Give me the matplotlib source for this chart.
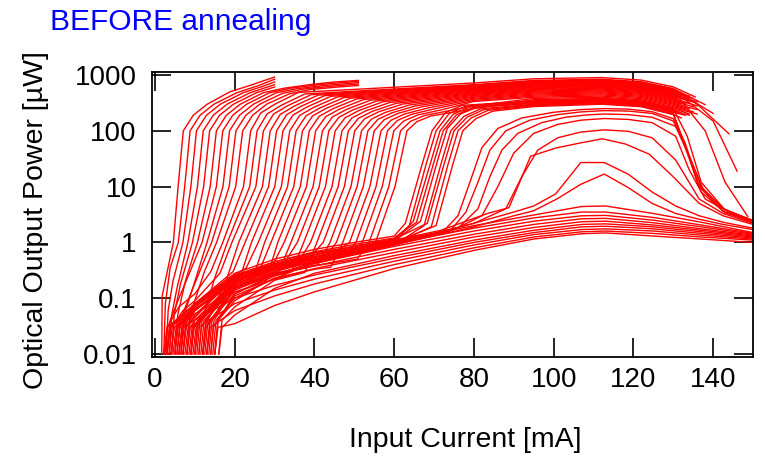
import matplotlib
matplotlib.use("Agg")
import matplotlib.pyplot as plt
from matplotlib.ticker import NullLocator

plt.rcParams['font.family'] = ['Liberation Sans', 'DejaVu Sans']

# ----------------------- data -----------------------
# current [mA] and optical power [uW] for every measured device

# early devices, measured up to 30 mA
early_i = [
    [1.7, 1.8, 4.6, 5.8, 7.1, 9.6, 13.1, 18.8, 24.1, 30.0],
    [2.2, 2.6, 3.8, 5.85, 7.45, 8.8, 11.3, 14.8, 20.5, 25.8, 30.0],
    [2.8, 3.3, 4.5, 7.0, 9.0, 10.4, 12.9, 16.4, 22.1, 27.4, 30.0],
    [3.6, 4.2, 5.5, 8.25, 10.65, 12.1, 14.6, 18.1, 23.8, 30.0],
    [4.2, 4.8, 6.4, 9.4, 12.2, 13.7, 16.2, 19.7, 25.4, 30.0],
]
early_p = [
    [0.01, 0.11, 1.0, 10, 100, 190, 300, 500, 660, 920],
    [0.01, 0.08, 0.35, 1, 10, 100, 190, 300, 480, 640, 840],
    [0.01, 0.06, 0.2, 1, 10, 100, 190, 300, 480, 640, 750],
    [0.01, 0.05, 0.15, 1, 10, 100, 190, 300, 480, 670],
    [0.01, 0.05, 0.18, 1, 10, 100, 190, 300, 480, 610],
]

# devices measured up to 51 mA
mid_i = [
    [5.0, 5.7, 7.6, 10.65, 13.85, 15.4, 17.9, 21.4, 27.1, 32.4, 39.4, 45.0, 51.0],
    [3.0, 3.8, 6.0, 8.8, 11.8, 15.4, 17.0, 19.5, 23.0, 28.7, 34.0, 41.0, 47.0, 51.0],
    [6.5, 7.3, 10.0, 13.05, 17.05, 18.7, 21.2, 24.7, 30.4, 35.7, 42.7, 51.0],
    [5.5, 6.3, 8.5, 11.2, 14.2, 18.6, 20.3, 22.8, 26.3, 32.0, 37.3, 44.3, 51.0],
    [8.0, 8.8, 12.4, 15.45, 20.25, 22.0, 24.5, 28.0, 33.7, 39.0, 46.0, 51.0],
]
mid_p = [
    [0.01, 0.05, 0.2, 1, 10, 100, 190, 300, 480, 580, 680, 750, 800],
    [0.01, 0.04, 0.1, 0.3, 1, 10, 100, 190, 300, 480, 580, 670, 730, 770],
    [0.01, 0.05, 0.2, 1, 10, 100, 190, 300, 480, 570, 650, 730],
    [0.01, 0.04, 0.1, 0.3, 1, 10, 100, 190, 300, 470, 560, 630, 690],
    [0.01, 0.05, 0.3, 1, 10, 100, 190, 300, 460, 550, 610, 650],
]

# lasing devices measured up to the roll-over
late_i = [
    [2.2, 3.0, 6, 10, 14, 17, 22.2, 24.0, 26.5, 30.0, 36.0, 80, 95, 112, 122, 130, 135.5],
    [11, 11.8, 15.15, 18.15, 23.75, 25.6, 28.1, 31.6, 37.6, 80, 95, 112, 122, 130, 138],
    [3.5, 4.3, 7, 10, 16.3, 19.3, 25.3, 27.2, 29.7, 33.2, 39.2, 80, 95, 112, 122, 130, 140],
    [12.5, 13.3, 18, 21, 26.95, 28.9, 31.4, 34.9, 40.9, 80, 95, 112, 122, 130, 136, 144],
    [5.5, 6.3, 10, 19.6, 22.6, 28.5, 30.5, 33.0, 36.5, 42.5, 80, 95, 112, 122, 130, 140, 146],
    [14, 14.8, 21.2, 24.2, 30.05, 32.1, 34.6, 38.1, 44.1, 80, 95, 112, 122, 130, 138, 143, 148.7],
    [6.5, 7.3, 10, 20, 22.9, 25.9, 31.7, 33.8, 36.3, 39.8, 45.8, 80, 95, 112, 122, 130, 134],
    [9, 9.8, 20, 24.5, 27.5, 33.25, 35.4, 37.9, 41.4, 47.4, 80, 95, 112, 122, 130, 133],
    [4, 4.8, 10, 20, 26.1, 29.1, 34.8, 37.0, 39.5, 43.0, 49.0, 80, 95, 112, 122, 130, 135],
    [15, 15.8, 20, 27.8, 30.8, 36.45, 38.7, 41.2, 44.7, 50.7, 80, 95, 112, 122, 130, 132],
    [7.5, 8.3, 10, 20, 29.4, 32.4, 38.0, 40.3, 42.8, 46.3, 52.3, 80, 95, 112, 122, 130, 136],
    [10.5, 11.3, 20, 31.1, 34.1, 39.65, 42.0, 44.5, 48.0, 54.0, 80, 95, 112, 122, 130, 134],
    [3, 3.8, 10, 20, 32.7, 35.7, 41.2, 43.6, 46.1, 49.6, 55.6, 80, 95, 112, 122, 130, 133],
    [13, 13.8, 20, 30, 34.3, 37.3, 42.75, 45.2, 47.7, 51.2, 57.2, 80, 95, 112, 122, 130, 135],
    [8, 8.8, 10, 20, 30, 36, 39, 44.4, 46.9, 49.4, 52.9, 58.9, 80, 95, 112, 122, 130, 131],
    [16, 16.8, 20, 30, 37.6, 40.6, 45.95, 48.5, 51.0, 54.5, 60.5, 80, 95, 112, 122, 130, 136],
    [5, 5.8, 10, 20, 30, 39.2, 42.2, 47.5, 50.1, 52.6, 56.1, 62.1, 80, 95, 112, 122, 130, 134],
    [11.5, 12.3, 20, 30, 40.9, 43.9, 49.15, 51.8, 54.3, 57.8, 63.8, 80, 95, 112, 122, 130, 133],
    [9.5, 10.3, 20, 30, 42.5, 45.5, 50.7, 53.4, 55.9, 59.4, 65.4, 80, 95, 112, 122, 130, 135],
    [14.5, 15.3, 20, 30, 40, 44.1, 47.1, 52.25, 55.0, 57.5, 61.0, 67.0, 80, 95, 112, 122, 130, 132],
    [6, 6.8, 10, 20, 30, 40, 45.8, 48.8, 53.9, 56.7, 59.2, 62.7, 68.7, 80, 95, 112, 122, 130, 136],
    [12, 12.8, 20, 30, 40, 47.4, 50.4, 55.45, 58.3, 60.8, 64.3, 70.3, 80, 95, 112, 122, 130, 134],
    [7, 7.8, 10, 20, 30, 40, 49, 52, 57.0, 59.9, 62.4, 65.9, 71.9, 80, 95, 112, 122, 130, 133],
    [10, 10.8, 20, 30, 40, 50.7, 53.7, 58.65, 61.6, 64.1, 67.6, 73.6, 80, 95, 112, 122, 130, 135],
    [13.5, 14.3, 20, 30, 40, 52.3, 55.3, 60.2, 63.2, 65.7, 69.2, 75.2, 80, 95, 112, 122, 130, 136],
]
late_p = [
    [0.01, 0.03, 0.07, 0.12, 0.3, 1, 10, 100, 208, 298, 488, 720, 855, 900, 810, 612, 405],
    [0.01, 0.04, 0.25, 1, 10, 100, 200, 285, 457, 672, 798, 840, 756, 571, 294],
    [0.01, 0.03, 0.06, 0.09, 0.28, 1, 10, 100, 198, 280, 446, 656, 779, 820, 738, 558, 205],
    [0.01, 0.04, 0.22, 1, 10, 100, 196, 276, 436, 640, 760, 800, 720, 544, 300, 88],
    [0.01, 0.03, 0.08, 0.3, 1, 10, 100, 194, 272, 426, 624, 741, 780, 702, 530, 150, 19],
    [0.01, 0.04, 0.22, 1, 10, 100, 191, 267, 415, 608, 722, 760, 684, 517, 100, 12, 2.9],
    [0.01, 0.03, 0.07, 0.26, 0.35, 1, 10, 100, 189, 263, 405, 592, 703, 740, 666, 503, 420],
    [0.01, 0.04, 0.15, 0.22, 1, 10, 100, 186, 258, 394, 576, 684, 720, 648, 490, 430],
    [0.01, 0.03, 0.065, 0.2, 0.3, 1, 10, 100, 184, 254, 384, 560, 665, 700, 630, 476, 380],
    [0.01, 0.04, 0.09, 0.2, 1, 10, 100, 182, 250, 374, 544, 646, 680, 612, 462, 430],
    [0.01, 0.03, 0.05, 0.23, 0.38, 1, 10, 100, 179, 245, 363, 528, 627, 660, 594, 449, 330],
    [0.01, 0.04, 0.17, 0.3, 1, 10, 100, 177, 241, 353, 512, 608, 640, 576, 435, 360],
    [0.01, 0.03, 0.08, 0.25, 0.46, 1, 10, 100, 174, 236, 342, 496, 589, 620, 558, 422, 370],
    [0.01, 0.04, 0.12, 0.25, 0.3, 1, 10, 100, 172, 232, 332, 480, 570, 600, 540, 408, 330],
    [0.01, 0.03, 0.04, 0.21, 0.37, 0.45, 1, 10, 100, 170, 228, 322, 464, 551, 580, 522, 394, 380],
    [0.01, 0.04, 0.07, 0.21, 0.29, 1, 10, 100, 167, 223, 311, 448, 532, 560, 504, 381, 280],
    [0.01, 0.03, 0.075, 0.24, 0.42, 0.58, 1, 10, 100, 165, 219, 301, 432, 513, 540, 486, 367, 310],
    [0.01, 0.04, 0.16, 0.28, 0.4, 1, 10, 100, 162, 214, 290, 416, 494, 520, 468, 354, 310],
    [0.01, 0.03, 0.2, 0.35, 0.52, 1, 10, 100, 160, 210, 280, 400, 475, 500, 450, 340, 270],
    [0.01, 0.04, 0.1, 0.23, 0.33, 0.36, 1, 10, 100, 158, 206, 270, 384, 456, 480, 432, 326, 300],
    [0.01, 0.03, 0.08, 0.26, 0.45, 0.65, 0.72, 1, 10, 100, 155, 201, 259, 368, 437, 460, 414, 313, 240],
    [0.01, 0.04, 0.18, 0.32, 0.45, 0.55, 1, 10, 100, 153, 197, 249, 352, 418, 440, 396, 299, 250],
    [0.01, 0.03, 0.06, 0.22, 0.38, 0.55, 0.66, 1, 10, 100, 150, 192, 238, 336, 399, 420, 378, 286, 250],
    [0.01, 0.04, 0.15, 0.27, 0.38, 0.5, 1, 10, 100, 148, 188, 228, 280, 380, 400, 360, 272, 220],
    [0.01, 0.04, 0.2, 0.35, 0.5, 0.65, 1, 10, 100, 146, 184, 218, 250, 361, 380, 342, 258, 200],
]

# steep group reaching 100 uW near 70-77 mA
steep_i = [
    [4.5, 5.3, 10, 20, 30, 40, 50, 60, 62.8, 67.0, 69.5, 72.8, 77.0, 95, 112, 122, 130, 134],
    [8.5, 9.3, 20, 30, 40, 50, 60, 63.8, 68.0, 70.5, 73.8, 78.0, 95, 112, 122, 130, 133.5, 137, 143, 150],
    [12, 12.8, 20, 30, 40, 50, 60, 64.8, 69.0, 71.5, 74.8, 79.0, 95, 112, 122, 130, 132],
    [6, 6.8, 10, 20, 30, 40, 50, 60, 65.6, 69.8, 72.3, 75.6, 79.8, 95, 112, 122, 130, 134],
    [10, 10.8, 20, 30, 40, 50, 60, 66.6, 70.8, 73.3, 76.6, 80.8, 95, 112, 122, 130, 131],
    [15, 15.8, 20, 30, 40, 50, 60, 67.5, 71.7, 74.2, 77.5, 81.7, 95, 112, 122, 130, 133.5, 137, 143, 150],
    [7, 7.8, 10, 20, 30, 40, 50, 60, 68.3, 72.5, 75.0, 78.3, 82.5, 95, 112, 122, 130, 133],
    [13, 13.8, 20, 30, 40, 50, 60, 69.3, 73.5, 76.0, 79.3, 83.5, 95, 112, 122, 130, 133, 136.5, 142.5, 150],
    [9, 9.8, 20, 30, 40, 50, 60, 70.5, 74.7, 77.2, 80.5, 84.7, 95, 112, 122, 130, 132],
]
steep_p = [
    [0.01, 0.03, 0.08, 0.28, 0.5, 0.75, 1.0, 1.3, 2.2, 25, 100, 210, 285, 345, 380, 342, 255, 200],
    [0.01, 0.03, 0.22, 0.4, 0.6, 0.85, 1.15, 2.0, 25, 100, 204, 278, 336, 370, 333, 250, 80, 12, 3.8, 2.5],
    [0.01, 0.04, 0.18, 0.33, 0.5, 0.72, 1.0, 2.4, 25, 100, 198, 270, 328, 360, 324, 240, 210],
    [0.01, 0.03, 0.06, 0.24, 0.45, 0.68, 0.92, 1.2, 2.3, 25, 100, 193, 263, 318, 350, 315, 230, 190],
    [0.01, 0.04, 0.2, 0.37, 0.55, 0.78, 1.05, 2.4, 28, 110, 200, 265, 310, 340, 306, 225, 215],
    [0.01, 0.04, 0.12, 0.27, 0.42, 0.62, 0.9, 2.0, 25, 100, 182, 248, 300, 330, 297, 210, 40, 8, 3.4, 2.3],
    [0.01, 0.03, 0.05, 0.22, 0.4, 0.6, 0.85, 1.15, 2.2, 25, 100, 176, 240, 290, 320, 288, 215, 190],
    [0.01, 0.04, 0.15, 0.3, 0.46, 0.66, 0.95, 1.9, 25, 100, 170, 232, 282, 310, 279, 200, 55, 10, 3.6, 2.4],
    [0.01, 0.03, 0.19, 0.36, 0.53, 0.75, 1.0, 2.0, 25, 100, 165, 225, 272, 300, 270, 195, 170],
]

# slowly rising devices peaking near 112 mA
slow_i = [
    [7, 7.6, 20, 40, 60, 72, 76, 79, 82, 86, 92, 100, 106.8, 112.7, 118.7, 124.7, 130, 133, 136, 141, 150],
    [11, 11.6, 20, 40, 60, 74, 78, 81, 84, 88, 94, 101, 106.8, 112.7, 118.7, 124.7, 130, 133.5, 137, 142, 150],
    [3, 3.6, 10, 20, 40, 60, 76, 81, 84, 87, 91, 97, 103, 108, 112.7, 118.7, 124.7, 130.6, 134, 137.5, 143, 150],
    [14, 14.6, 20, 40, 60, 75, 82, 86, 90, 95, 101, 106.8, 112.7, 118.7, 124.7, 130.6, 134, 138, 144, 150],
    [9, 9.6, 20, 40, 60, 80, 88, 92, 96, 101, 106.8, 112.7, 118.7, 124.7, 130.6, 136.5, 142.5, 150],
    [5, 5.6, 10, 20, 40, 60, 71.6, 83.4, 88.8, 94.2, 100.5, 106.4, 112.2, 118, 124, 130, 136.5, 142.5, 150],
]
slow_p = [
    [0.01, 0.03, 0.25, 0.65, 1.1, 1.5, 3, 12, 50, 110, 170, 215, 240, 250, 245, 220, 165, 60, 12, 4.5, 2.4],
    [0.01, 0.03, 0.2, 0.55, 1.0, 1.6, 3.5, 12, 45, 100, 155, 195, 218, 230, 226, 205, 150, 45, 10, 4.2, 2.4],
    [0.01, 0.03, 0.07, 0.22, 0.6, 1.05, 1.8, 4, 15, 45, 90, 140, 175, 192, 200, 195, 175, 120, 35, 9, 3.8, 2.3],
    [0.01, 0.03, 0.11, 0.45, 0.9, 1.7, 3, 10, 40, 90, 130, 155, 166, 160, 140, 80, 20, 6, 3.5, 2.3],
    [0.01, 0.03, 0.18, 0.5, 0.95, 2.2, 4, 15, 45, 75, 95, 104, 98, 75, 30, 6, 3.3, 2.2],
    [0.01, 0.03, 0.06, 0.2, 0.55, 1.1, 1.64, 3.3, 4.2, 35, 49, 60, 72, 58, 38, 15, 5, 3, 2.1],
]

# weakly lasing devices
weak_i = [
    [12, 12.6, 20, 40, 60, 80, 90, 95, 100.5, 106.8, 112.7, 118.7, 124.7, 130.6, 136.5, 142.5, 150],
    [2.5, 3.1, 10, 20, 40, 60, 80, 90, 95, 100.8, 106.8, 112.7, 118.7, 124.7, 130.6, 136.5, 142.5, 150],
]
weak_p = [
    [0.01, 0.03, 0.15, 0.45, 0.95, 2.2, 3.5, 4.5, 7.4, 27, 27, 16.7, 8, 4.5, 3, 2.3, 1.8],
    [0.01, 0.03, 0.08, 0.22, 0.5, 0.9, 1.9, 3, 3.7, 6, 11, 16.8, 9.6, 5, 3.3, 2.6, 2.1, 1.7],
]

# non-lasing (LED-like) devices
led_start = [15, 13, 10, 6, 16, 8, 4, 12, 3, 9]
led_i = [20, 30, 40, 60, 80, 95, 107, 113, 125, 137, 150]
led_p = [
    [0.035, 0.074, 0.13, 0.34, 0.72, 1.15, 1.43, 1.48, 1.3, 1.15, 1.0],
    [0.06, 0.11, 0.18, 0.4, 0.8, 1.25, 1.55, 1.6, 1.45, 1.25, 1.1],
    [0.08, 0.14, 0.22, 0.46, 0.9, 1.38, 1.7, 1.75, 1.6, 1.35, 1.15],
    [0.1, 0.17, 0.26, 0.52, 1.0, 1.5, 1.9, 1.95, 1.75, 1.45, 1.2],
    [0.05, 0.15, 0.28, 0.58, 1.1, 1.65, 2.1, 2.15, 1.9, 1.55, 1.25],
    [0.13, 0.22, 0.34, 0.66, 1.25, 1.85, 2.35, 2.4, 2.05, 1.65, 1.3],
    [0.15, 0.26, 0.38, 0.75, 1.4, 2.1, 2.65, 2.7, 2.25, 1.75, 1.35],
    [0.14, 0.27, 0.42, 0.85, 1.6, 2.4, 3.0, 3.05, 2.5, 1.9, 1.4],
    [0.2, 0.34, 0.5, 0.95, 1.8, 2.75, 3.5, 3.5, 2.8, 2.05, 1.45],
    [0.22, 0.38, 0.56, 1.05, 2.0, 3.1, 4.4, 4.5, 3.3, 2.3, 1.5],
]

y_ticks = [0.01, 0.1, 1, 10, 100, 1000]
y_tick_labels = ["0.01", "0.1", "1", "10", "100", "1000"]
x_ticks = [0, 20, 40, 60, 80, 100, 120, 140]

# ----------------------- figure -----------------------
fig = plt.figure(figsize=(7.65, 4.58), dpi=100)
ax = fig.add_axes([0.1987, 0.2205, 0.7856, 0.6223])

line_kw = dict(color="#ff0000", lw=1.0)
for xs, ys in zip(early_i + mid_i + late_i + steep_i + slow_i + weak_i,
                  early_p + mid_p + late_p + steep_p + slow_p + weak_p):
    ax.plot(xs, ys, **line_kw)
for s, ys in zip(led_start, led_p):
    ax.plot([s, s + 0.8] + led_i, [0.01, 0.03] + ys, **line_kw)

ax.set_yscale("log")
ax.set_xlim(-0.75, 150)
ax.set_ylim(0.00884, 1132)
ax.set_yticks(y_ticks)
ax.set_yticklabels(y_tick_labels)
ax.set_xticks(x_ticks)
ax.yaxis.set_minor_locator(NullLocator())
ax.tick_params(which="major", direction="in", length=14, width=1.2,
               top=True, right=True, labelsize=20, colors="black")
ax.tick_params(axis="y", pad=11)
ax.tick_params(axis="x", pad=7)
for sp in ax.spines.values():
    sp.set_linewidth(1.3)

fig.text(50 / 765, 1 - 29.5 / 458, "BEFORE annealing", color="#0000ff",
         fontsize=21.5, ha="left", va="baseline")
fig.text(36 / 765, 1 - 220 / 458, "Optical Output Power [\u00b5W]",
         fontsize=20.5, rotation=90, ha="center", va="center")
fig.text(465 / 765, 1 - 440 / 458, "Input Current [mA]",
         fontsize=20.5, ha="center", va="center")

fig.savefig("out.png", dpi=100)
